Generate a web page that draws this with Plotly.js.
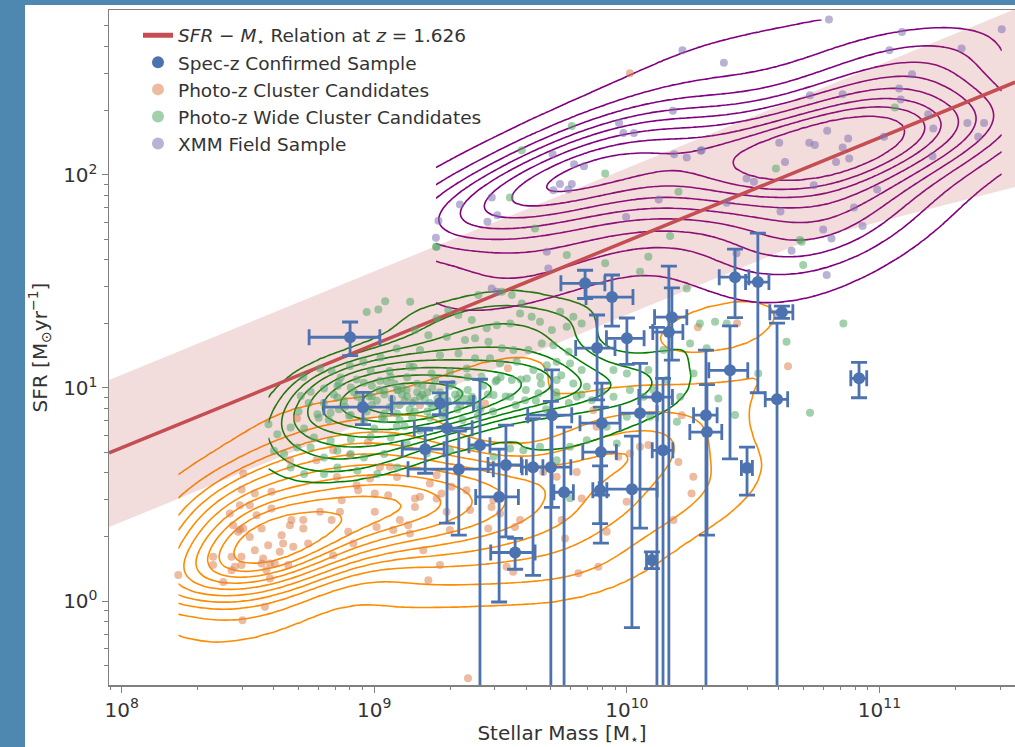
<!DOCTYPE html>
<html><head><meta charset="utf-8">
<script src="https://cdn.plot.ly/plotly-3.0.1.min.js"></script>
<style>html,body{margin:0;padding:0;background:#4e87af;}#chart{width:1015px;height:747px;}</style>
</head><body><div id="chart"></div>
<script>
// ---- SFR - M* relation at z = 1.626 (log10 values) ----
const relLogMass = [7.95, 11.537];
const relLogSfr = [0.695, 2.435];
// band edges (log10 values)
const bandUpperLogMass = [7.95, 11.537];
const bandUpperLogSfr = [1.038, 2.778];
const bandLowerLogMass = [7.95, 10.72, 11.537];
const bandLowerLogSfr = [0.347, 1.694, 1.943];

// ---- Spec-z confirmed sample (mass in 1e9 Msun, SFR in Msun/yr, symmetric errors) ----
const specMass9 = [0.802,0.902,1.82,1.94,1.59,2.16,2.62,3.32,3.12,3.61,4.25,5.00,5.05,5.64,7.96,7.89,7.83,11.27,10.47,13.9,12.56,20.56,20.75,25.6,26.8,33.0,41.1,39.3,83.0,29.9,6.83,8.73,7.62,10.0,15.07,14.66,13.15];
const specMassErr9 = [0.25,0.27,0.65,0.5,0.3,0.8,0.25,0.5,0.6,0.72,0.4,1.0,1.0,0.5,1.44,1.2,0.5,1.9,2.7,1.3,0.6,2.2,3.0,4.5,3.6,3.5,4.3,4.0,6.0,1.5,1.35,1.84,1.35,1.7,2.2,2.0,2.0];
const specSfr = [17.3,8.13,8.49,6.48,5.16,4.16,5.39,4.35,3.08,1.69,4.25,4.25,7.45,3.24,6.84,5.0,3.31,7.62,3.35,5.1,1.56,7.45,6.21,12.1,33.1,31.4,22.7,8.85,11.1,4.21,31.0,26.7,15.4,17.1,21.5,18.3,9.06];
const specSfrErr = [3.1,1.4,1.0,4.16,1.18,2.12,5.6,2.35,2.09,0.28,2.93,4.4,4.7,3.31,3.7,3.13,1.0,5.42,2.6,6.0,0.14,7.6,4.17,7.45,11.7,21.9,1.5,11.3,2.1,1.07,4.7,7.2,6.6,4.2,8.0,19.0,10.2];

// ---- Photo-z cluster candidates (log10 mass, log10 SFR) ----
const orangeLogMass = [8.481,8.475,8.527,8.593,8.468,8.507,8.593,8.534,8.428,8.441,8.468,8.481,8.507,8.461,8.554,8.672,8.719,8.666,8.719,8.633,8.580,8.639,8.527,8.560,8.626,8.679,8.738,8.362,8.362,8.435,8.474,8.448,8.474,8.435,8.554,8.587,8.606,8.659,8.573,8.587,8.402,8.224,8.567,8.478,8.785,8.831,8.864,8.871,8.936,8.930,9.002,9.055,8.983,8.771,8.837,8.903,9.062,9.002,9.009,9.075,9.101,9.134,9.141,9.161,9.161,9.181,9.247,9.266,9.306,9.247,9.220,9.286,9.299,9.194,9.260,9.214,8.917,8.837,8.897,
9.181,9.438,9.365,9.379,9.471,9.464,9.498,9.451,9.557,9.524,9.550,9.577,9.669,9.722,9.801,9.742,9.755,9.821,9.867,9.880,9.966,10.012,10.052,9.999,9.920,9.808,9.887,10.085,10.204,10.217,10.263,10.256,10.184,
9.371,10.012,10.638,10.436,10.281,9.529,
8.975,8.694,8.666,8.852,9.022,9.090];
const orangeLogSfr = [0.599,0.524,0.505,0.513,0.450,0.450,0.434,0.403,0.411,0.356,0.336,0.341,0.301,0.325,0.341,0.380,0.380,0.356,0.341,0.309,0.262,0.270,0.239,0.200,0.231,0.255,0.270,0.208,0.169,0.208,0.208,0.161,0.169,0.145,0.176,0.176,0.176,0.169,0.145,0.106,0.090,0.122,-0.027,-0.090,0.419,0.380,0.419,0.473,0.520,0.544,0.505,0.497,0.575,0.661,0.708,0.685,0.630,0.419,0.348,0.333,0.380,0.356,0.317,0.442,0.481,0.489,0.481,0.505,0.536,0.591,0.552,0.419,0.333,0.239,0.169,0.098,0.270,0.215,0.325,
0.919,0.927,0.520,0.427,0.474,0.442,0.411,0.341,0.348,0.161,0.137,0.380,0.606,0.583,0.606,0.380,0.294,0.481,0.896,0.818,0.677,0.693,0.724,0.466,0.325,0.130,0.161,0.732,0.653,0.872,0.583,0.505,0.380,
-0.362,2.477,1.102,1.304,1.285,1.093,
0.746,0.858,0.661,0.582,0.628,0.582];

// ---- Photo-z wide cluster candidates ----
const greenLogMass = [8.970,9.016,9.043,8.581,8.719,8.785,8.831,8.867,8.904,8.957,8.986,9.025,9.089,9.065,9.023,8.959,8.907,8.854,8.801,8.748,8.709,8.854,8.933,9.039,8.775,8.827,8.907,8.959,9.039,8.616,8.669,8.722,8.761,8.827,8.907,8.986,9.065,8.603,8.643,8.695,8.748,8.801,8.854,8.907,8.959,9.039,8.669,8.722,8.801,8.854,8.933,9.012,9.091,8.884,8.990,9.069,9.089,9.095,
9.247,9.762,9.914,10.052,10.085,9.142,9.412,9.505,9.544,9.584,9.293,9.247,9.333,9.386,9.445,9.485,9.538,9.577,9.623,9.656,9.703,9.762,9.788,9.821,9.736,9.161,9.214,9.287,9.359,9.399,9.452,9.505,9.551,9.610,9.663,9.709,9.769,9.181,9.260,9.333,9.399,9.458,9.498,9.564,9.630,9.683,9.722,9.775,9.821,9.155,9.227,9.300,9.366,9.425,9.485,9.544,9.604,9.656,9.722,9.788,9.841,9.901,9.947,10.000,10.085,10.145,10.158,10.211,10.237,9.128,9.181,9.274,9.340,9.386,9.472,9.538,9.597,9.650,9.722,9.802,9.861,9.947,10.012,10.066,10.105,10.198,10.250,10.264,10.092,10.000,9.920,
9.590,9.656,9.722,9.775,9.841,9.775,9.128,9.208,9.300,9.392,9.472,9.538,9.960,
10.692,10.698,10.289,10.349,10.395,10.316,10.857,10.632,10.520,10.362,10.428,10.725,
9.782,9.584,9.914,9.537,9.636,9.244,10.204,10.171,11.061,10.590,10.685,
8.80,8.84,8.88,8.92,8.95,8.98,9.01,9.04,9.07,9.10,9.13,9.16,9.19,9.22,9.25,9.28,8.86,8.93,8.99,9.05,9.11,9.17,9.23,9.30,8.90,8.97,9.03,9.09,9.15,9.21,9.27,9.33,8.82,9.00,9.12,9.18,9.36,9.40,9.06,9.14,
9.02,9.06,9.09,9.12,9.14,9.17,9.20,9.23,9.26,9.29,9.32,9.34,9.37,9.39,9.42,9.45,9.08,9.13,9.19,9.24,9.31,9.37,9.43,9.48,9.04,9.10,9.16,9.22,9.28,9.35,9.41,9.47,8.96,8.99,9.11,9.15,9.21,9.27,9.33,9.38,9.52,9.56,9.60,9.64,9.68,9.72,9.77,9.82,9.50,9.58,9.66,9.74,8.70,8.74,8.78,8.86];
const greenLogSfr = [1.357,1.368,1.407,0.830,1.052,1.092,1.081,1.049,1.103,1.123,1.081,1.143,1.185,1.052,1.034,1.024,1.002,1.009,0.998,0.982,0.962,0.955,0.959,0.987,0.877,0.884,0.873,0.846,0.852,0.783,0.815,0.810,0.768,0.752,0.758,0.771,0.768,0.705,0.690,0.721,0.721,0.674,0.705,0.690,0.674,0.690,0.627,0.596,0.596,0.627,0.611,0.596,0.627,0.912,0.920,0.912,0.818,0.990,
1.663,1.624,1.585,1.545,1.616,1.405,1.436,1.452,1.436,1.397,1.366,1.327,1.342,1.319,1.280,1.295,1.303,1.350,1.334,1.311,1.272,1.287,1.334,1.303,1.358,1.272,1.248,1.240,1.225,1.233,1.217,1.186,1.178,1.178,1.209,1.201,1.170,1.178,1.154,1.162,1.139,1.139,1.115,1.123,1.084,1.107,1.123,1.115,1.084,1.100,1.068,1.076,1.092,1.053,1.037,1.037,1.045,1.053,1.037,1.021,1.006,0.982,1.084,1.068,1.084,1.178,1.037,0.959,1.467,0.990,0.959,0.959,0.975,0.959,0.967,0.959,0.943,0.975,0.959,0.959,0.943,0.959,0.990,0.959,0.990,0.842,1.209,1.068,0.865,0.865,0.818,
0.708,0.724,0.661,0.724,0.755,0.482,0.740,0.693,0.708,0.724,0.677,0.716,0.740,
1.686,1.577,1.303,1.311,1.303,1.186,1.303,1.217,1.068,0.951,0.873,0.884,
2.229,2.116,2.007,1.894,1.749,1.663,1.921,1.713,2.316,2.030,1.694,
0.93,0.97,0.94,0.98,0.93,0.96,0.94,0.97,0.95,0.92,0.96,0.94,0.97,0.93,0.95,0.91,1.02,1.04,1.01,1.03,1.00,1.02,1.00,1.01,0.87,0.89,0.86,0.88,0.86,0.89,0.87,0.90,0.85,0.81,0.82,0.80,0.95,0.92,1.08,1.10,
0.99,0.91,0.99,0.94,0.90,0.98,0.95,0.91,0.98,0.94,0.97,0.92,0.99,0.95,0.90,0.97,1.02,1.05,1.01,1.04,1.02,1.05,1.01,1.03,0.88,0.85,0.89,0.86,0.88,0.85,0.87,0.89,0.91,0.96,0.97,0.93,0.98,0.92,0.95,0.93,0.96,0.92,0.99,0.94,0.90,0.98,0.93,0.97,1.05,1.04,1.02,1.06,0.89,0.93,0.86,0.90];

// ---- XMM field sample ----
const purpleLogMass = [10.220,10.182,9.969,9.986,10.028,9.706,9.791,9.830,10.187,10.237,10.292,9.735,9.709,9.768,9.782,9.465,9.339,9.487,9.448,9.254,9.244,9.997,10.126,
10.800,11.089,11.039,11.325,11.484,10.384,11.129,10.725,10.854,11.078,11.084,11.193,11.213,11.348,11.414,11.391,11.210,10.296,10.603,10.722,10.744,10.793,10.876,10.854,10.828,10.880,11.018,10.626,10.474,10.503,10.740,10.991,10.395,10.608,10.899,10.777,10.933,10.810,
10.652,10.791,10.434,10.593,9.683,9.689,9.465,9.485];
const purpleLogSfr = [2.585,2.301,2.244,2.197,2.197,2.097,2.050,2.041,2.097,2.082,2.113,1.957,1.928,1.932,1.957,1.894,1.861,1.811,1.780,1.785,1.705,1.803,1.885,
2.729,2.671,2.585,2.593,2.684,2.527,2.473,2.374,2.379,2.405,2.354,2.285,2.218,2.244,2.244,2.179,2.088,2.116,2.151,2.151,2.140,2.207,2.171,2.129,2.061,2.077,2.179,2.061,1.983,1.968,1.952,1.932,1.869,1.828,1.847,1.744,1.760,1.702,
1.644,1.530,1.632,1.350,1.639,1.561,1.467,1.452];

// axis tick labels
const yTickVals = [1, 10, 100];
const yTickText = ['10<sup>0</sup>', '10<sup>1</sup>', '10<sup>2</sup>'];
const xTickVals = [1e8, 1e9, 1e10, 1e11];
const xTickText = ['10<sup>8</sup>', '10<sup>9</sup>', '10<sup>10</sup>', '10<sup>11</sup>'];

// ---------- helpers ----------
const pow10 = a => a.map(v => Math.pow(10, v));
function minorLogTicks(lo, hi) {
  const out = [];
  for (let d = Math.floor(lo); d <= Math.ceil(hi); d++)
    for (let m = 2; m <= 9; m++) { const v = m * Math.pow(10, d); const lv = Math.log10(v); if (lv >= lo && lv <= hi) out.push(v); }
  return out;
}

function kdeContour(lx, ly, bwAdj, thresh, nLevels, nGrid, color) {
  const N = lx.length;
  let mx = 0, my = 0;
  for (let i = 0; i < N; i++) { mx += lx[i]; my += ly[i]; }
  mx /= N; my /= N;
  let sxx = 0, syy = 0, sxy = 0;
  for (let i = 0; i < N; i++) { const dx = lx[i]-mx, dy = ly[i]-my; sxx += dx*dx; syy += dy*dy; sxy += dx*dy; }
  sxx /= (N-1); syy /= (N-1); sxy /= (N-1);
  const f = Math.pow(N, -1/6) * bwAdj, f2 = f*f;
  const a = sxx*f2, b = sxy*f2, c = syy*f2, det = a*c - b*b;
  const ia = c/det, ib = -b/det, ic = a/det;
  const x0 = Math.min(...lx), x1 = Math.max(...lx), y0 = Math.min(...ly), y1 = Math.max(...ly);
  const gx = [], gy = [];
  for (let i = 0; i < nGrid; i++) { gx.push(x0 + (x1-x0)*i/(nGrid-1)); gy.push(y0 + (y1-y0)*i/(nGrid-1)); }
  const z = [], flat = [];
  for (let j = 0; j < nGrid; j++) {
    const row = [];
    for (let i = 0; i < nGrid; i++) {
      let s = 0;
      for (let k = 0; k < N; k++) {
        const dx = gx[i]-lx[k], dy = gy[j]-ly[k];
        s += Math.exp(-0.5*(ia*dx*dx + 2*ib*dx*dy + ic*dy*dy));
      }
      row.push(s); flat.push(s);
    }
    z.push(row);
  }
  const sorted = flat.slice().sort((p, q) => q - p);
  const tot = sorted.reduce((p, q) => p + q, 0);
  const cum = []; let acc = 0;
  for (const v of sorted) { acc += v; cum.push(acc/tot); }
  const levels = [];
  for (let l = 0; l < nLevels; l++) {
    const p = thresh + l*((1-thresh)/nLevels);
    let idx = cum.findIndex(v => v >= 1 - p);
    if (idx < 0) idx = cum.length-1;
    levels.push(sorted[idx]);
  }
  const zmax = sorted[0], L = levels.length;
  const zt = z.map(row => row.map(v => {
    if (v < levels[0]) return v/levels[0];
    for (let l = 0; l < L-1; l++) if (v < levels[l+1]) return (l+1) + (v-levels[l])/(levels[l+1]-levels[l]);
    return L + (v-levels[L-1])/Math.max(zmax-levels[L-1], 1e-12);
  }));
  return {
    type: 'contour', x: pow10(gx), y: pow10(gy), z: zt,
    autocontour: false, contours: {start: 1, end: L, size: 1, coloring: 'none'},
    line: {color: color, width: 1.6, smoothing: 1},
    showscale: false, showlegend: false, hoverinfo: 'skip'
  };
}

// ---------- traces ----------
const traces = [];
traces.push({type:'scatter', mode:'lines', x: pow10(bandUpperLogMass), y: pow10(bandUpperLogSfr),
  line:{width:0, color:'rgba(0,0,0,0)'}, showlegend:false, hoverinfo:'skip'});
traces.push({type:'scatter', mode:'lines', x: pow10(bandLowerLogMass), y: pow10(bandLowerLogSfr),
  fill:'tonexty', fillcolor:'rgba(196,78,82,0.2)', line:{width:0, color:'rgba(0,0,0,0)'}, showlegend:false, hoverinfo:'skip'});
traces.push({type:'scatter', mode:'lines', x: pow10(relLogMass), y: pow10(relLogSfr),
  line:{color:'#c44e52', width:3.5}, name:'<i>SFR</i> − <i>M</i><sub>⋆</sub> Relation at <i>z</i> = 1.626', legendrank:1});
traces.push({type:'scatter', mode:'markers', x: pow10(orangeLogMass), y: pow10(orangeLogSfr),
  marker:{color:'#dd8452', size:8, opacity:0.55}, name:'Photo-z Cluster Candidates', legendrank:3});
traces.push({type:'scatter', mode:'markers', x: pow10(greenLogMass), y: pow10(greenLogSfr),
  marker:{color:'#55a868', size:8, opacity:0.55}, name:'Photo-z Wide Cluster Candidates', legendrank:4});
traces.push({type:'scatter', mode:'markers', x: pow10(purpleLogMass), y: pow10(purpleLogSfr),
  marker:{color:'#8172b3', size:8, opacity:0.55}, name:'XMM Field Sample', legendrank:5});
traces.push(kdeContour(orangeLogMass, orangeLogSfr, 0.85, 0.05, 10, 120, '#ff8c00'));
traces.push(kdeContour(greenLogMass, greenLogSfr, 0.8, 0.2, 8, 120, '#008000'));
traces.push(kdeContour(purpleLogMass, purpleLogSfr, 1.1, 0.05, 9, 120, '#800080'));
traces.push({type:'scatter', mode:'markers', x: specMass9.map(v => v*1e9), y: specSfr,
  error_x:{type:'data', array: specMassErr9.map(v => v*1e9), color:'#4c72b0', thickness:2.8, width:8},
  error_y:{type:'data', array: specSfrErr, color:'#4c72b0', thickness:2.8, width:8},
  marker:{color:'#4c72b0', size:12}, name:'Spec-z Confirmed Sample', legendrank:2});

const yr = [-0.394, 2.774], xr = [7.9497, 11.5365];
const layout = {
  width:1015, height:747,
  paper_bgcolor:'#4e87af', plot_bgcolor:'#ffffff',
  margin:{l:109, r:0, t:10, b:62},
  font:{family:'DejaVu Sans', color:'#333333', size:20},
  showlegend:true,
  legend:{x:0.032, y:0.99, xanchor:'left', yanchor:'top', bgcolor:'rgba(255,255,255,0)', borderwidth:0,
    font:{size:18.5, color:'#333333'}, itemsizing:'constant', tracegroupgap:0, traceorder:'normal'},
  xaxis:{type:'log', range:xr, tickmode:'array', tickvals:xTickVals, ticktext:xTickText, showgrid:false, zeroline:false,
    showline:true, linecolor:'#808080', linewidth:1.5, mirror:true, ticks:'outside', ticklen:6, tickcolor:'#808080',
    minor:{tickmode:'array', tickvals:minorLogTicks(xr[0], xr[1]), ticks:'outside', ticklen:3.5, tickcolor:'#808080', showgrid:false},
    tickfont:{size:20, color:'#333333'},
    title:{text:'Stellar Mass [M<sub>⋆</sub>]', font:{size:20, color:'#333333'}, standoff:6}},
  yaxis:{type:'log', range:yr, tickmode:'array', tickvals:yTickVals, ticktext:yTickText, showgrid:false, zeroline:false,
    showline:true, linecolor:'#808080', linewidth:1.5, mirror:false, ticks:'outside', ticklen:6, tickcolor:'#808080',
    minor:{tickmode:'array', tickvals:minorLogTicks(yr[0], yr[1]), ticks:'outside', ticklen:3.5, tickcolor:'#808080', showgrid:false},
    tickfont:{size:20, color:'#333333'},
    title:{text:'SFR [M<sub>⊙</sub>yr<sup>−1</sup>]', font:{size:20, color:'#333333'}, standoff:10}},
  shapes:[{type:'rect', xref:'paper', yref:'paper', x0:-0.0927, x1:1.01, y0:-0.1, y1:1.0074,
    fillcolor:'#ffffff', line:{width:0}, layer:'below'}]
};
Plotly.newPlot('chart', traces, layout, {displayModeBar:false, staticPlot:true});
</script></body></html>
